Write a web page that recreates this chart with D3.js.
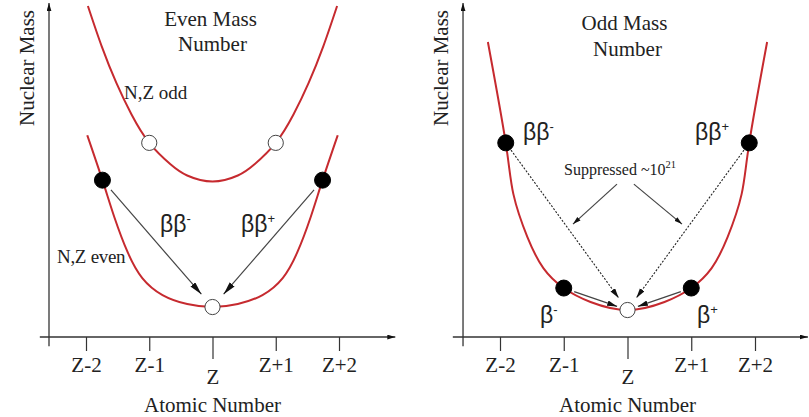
<!DOCTYPE html>
<html>
<head>
<meta charset="utf-8">
<script src="https://d3js.org/d3.v7.min.js"></script>
<style>
  body { margin: 0; background: #fff; }
  .serif { font-family: "Liberation Serif", "Times New Roman", serif; fill: #222; }
  .sans { font-family: "Liberation Sans", Arial, sans-serif; fill: #222; }
</style>
</head>
<body>
<div id="chart"></div>
<script>
// tick positions (atomic number relative to Z) and labels
const tickZ = [-2, -1, 0, 1, 2];
const tickLabels = ["Z-2", "Z-1", "Z", "Z+1", "Z+2"];

// even mass number, N,Z odd parabola (mass in arbitrary units)
const oddOddZ    = [-1.97, -1.75, -1.52, -1.28, -1, -0.66, -0.4, 0, 0.4, 0.66, 1, 1.28, 1.52, 1.75, 1.97];
const oddOddMass = [99.4, 87.2, 76.3, 66.8, 58.3, 51.8, 48.5, 46.7, 48.5, 51.8, 58.3, 66.8, 76.3, 87.2, 99.4];
// even mass number, N,Z even parabola
const evenEvenZ    = [-1.98, -1.74, -1.55, -1.34, -1.11, -0.79, -0.4, 0, 0.4, 0.79, 1.11, 1.34, 1.55, 1.74, 1.98];
const evenEvenMass = [60.6, 47.1, 35.9, 25.4, 17.7, 12.6, 9.9, 9.0, 9.9, 12.6, 17.7, 25.4, 35.9, 47.1, 60.6];
// odd mass number parabola
const oddAZ    = [-2.19, -1.91, -1.79, -1.57, -1.32, -1, -0.58, 0, 0.58, 1, 1.32, 1.57, 1.79, 1.91, 2.19];
const oddAMass = [88.6, 58.3, 42.9, 30.0, 20.7, 14.7, 10.5, 8.1, 10.5, 14.7, 20.7, 30.0, 42.9, 58.3, 88.6];

// nuclei drawn as circles
const evenOpenZ = [-1, 1, 0],      evenOpenMass = [58.3, 58.3, 9.0];
const evenFilledZ = [-1.74, 1.74], evenFilledMass = [47.1, 47.1];
const oddFilledZ = [-1.91, -1, 1, 1.91], oddFilledMass = [58.3, 14.7, 14.7, 58.3];
const oddOpenZ = [0],              oddOpenMass = [8.1];

// decay arrows: [fromZ, fromMass, toZ, toMass]
const evenArrows      = [[-1.74, 47.1, 0, 9.0], [1.74, 47.1, 0, 9.0]];
const oddDoubleArrows = [[-1.91, 58.3, 0, 8.1], [1.91, 58.3, 0, 8.1]];
const oddSingleArrows = [[-1, 14.7, 0, 8.1], [1, 14.7, 0, 8.1]];
const suppressArrows  = [[-0.165, 45.9, -0.855, 33.9], [0.1, 45.9, 0.855, 33.9]];

const W = 809, H = 417;
const red = "#c62a2f";

const svg = d3.select("#chart").append("svg")
    .attr("width", W).attr("height", H);

const defs = svg.append("defs");
function marker(id, len, half) {
  defs.append("marker")
      .attr("id", id)
      .attr("markerUnits", "userSpaceOnUse")
      .attr("markerWidth", len + 1).attr("markerHeight", half * 2 + 1)
      .attr("refX", len).attr("refY", half)
      .attr("orient", "auto")
    .append("path")
      .attr("d", `M0,0L${len},${half}L0,${half * 2}Z`)
      .attr("fill", "#111");
}
marker("head", 13, 3.2);
marker("headMid", 10, 2.8);
marker("headSmall", 8, 2.4);

const y = d3.scaleLinear().domain([0, 100]).range([337, 4]);

const line = (x) => d3.line()
    .x(d => x(d[0])).y(d => y(d[1]))
    .curve(d3.curveNatural);

function arrow(g, x, a, gap0, gap1, head, dashed) {
  const p0 = [x(a[0]), y(a[1])], p1 = [x(a[2]), y(a[3])];
  const dx = p1[0] - p0[0], dy = p1[1] - p0[1], L = Math.hypot(dx, dy);
  g.append("line")
      .attr("x1", p0[0] + dx * gap0 / L).attr("y1", p0[1] + dy * gap0 / L)
      .attr("x2", p1[0] - dx * gap1 / L).attr("y2", p1[1] - dy * gap1 / L)
      .attr("stroke", dashed ? "#222" : "#444")
      .attr("stroke-width", dashed ? 1.1 : 1.2)
      .attr("stroke-dasharray", dashed ? "2,1.6" : null)
      .attr("marker-end", `url(#${head})`);
}

function circles(g, x, zs, ms, filled) {
  g.selectAll(null).data(zs).join("circle")
      .attr("cx", d => x(d)).attr("cy", (d, i) => y(ms[i]))
      .attr("r", filled ? 8 : 7.6)
      .attr("fill", filled ? "#000" : "#fff")
      .attr("stroke", filled ? "#000" : "#444")
      .attr("stroke-width", 1);
}

function frame(g, x, axisFrom, axisTo, yAxisAt) {
  // x axis with custom ticks
  const ax = g.append("g")
      .attr("transform", `translate(0,${y(0)})`)
      .call(d3.axisBottom(x).tickValues(tickZ)
        .tickFormat((d, i) => tickLabels[i]).tickSize(14).tickSizeOuter(0))
      .attr("font-family", "Liberation Serif, Times New Roman, serif")
      .attr("font-size", 21);
  ax.select(".domain").remove();
  ax.selectAll(".tick line").attr("stroke", "#333").attr("stroke-width", 1.2)
      .filter(d => d === 0).attr("y2", 22);
  ax.selectAll(".tick text")
      .attr("fill", "#222")
      .attr("dy", 0).attr("y", d => d === 0 ? 47 : 35);

  g.append("line")
      .attr("x1", x(axisFrom)).attr("x2", x(axisTo))
      .attr("y1", y(0)).attr("y2", y(0))
      .attr("stroke", "#333").attr("stroke-width", 1.3)
      .attr("marker-end", "url(#headSmall)");
  g.append("line")
      .attr("x1", x(yAxisAt)).attr("x2", x(yAxisAt))
      .attr("y1", y(-2.8)).attr("y2", y(100.3))
      .attr("stroke", "#333").attr("stroke-width", 1.3)
      .attr("marker-end", "url(#headSmall)");

  g.append("text").attr("class", "serif").attr("font-size", 21)
      .attr("text-anchor", "middle")
      .attr("x", x(0)).attr("y", 412)
      .text("Atomic Number");
  g.append("text").attr("class", "serif").attr("font-size", 21)
      .attr("text-anchor", "middle")
      .attr("transform", `translate(${x(yAxisAt) - 15},68) rotate(-90)`)
      .text("Nuclear Mass");
}

function superLabel(g, px, py, base, sup, size, supSize, lift, cls) {
  const t = g.append("text").attr("class", cls).attr("font-size", size)
      .attr("x", px).attr("y", py).text(base);
  t.append("tspan").attr("font-size", supSize).attr("dy", -lift).text(sup);
}

// ---------- left panel: even mass number ----------
const xL = d3.scaleLinear().domain([-2, 2]).range([86, 339]);
const gL = svg.append("g");
frame(gL, xL, -2.73, 2.89, -2.585);

gL.append("path").datum(d3.zip(oddOddZ, oddOddMass))
    .attr("d", line(xL)).attr("fill", "none")
    .attr("stroke", red).attr("stroke-width", 2);
gL.append("path").datum(d3.zip(evenEvenZ, evenEvenMass))
    .attr("d", line(xL)).attr("fill", "none")
    .attr("stroke", red).attr("stroke-width", 2);

evenArrows.forEach(a => arrow(gL, xL, a, 13, 17, "head", false));
circles(gL, xL, evenOpenZ, evenOpenMass, false);
circles(gL, xL, evenFilledZ, evenFilledMass, true);

gL.append("text").attr("class", "serif").attr("font-size", 21)
    .attr("text-anchor", "middle").attr("x", xL(0) - 2).attr("y", 26).text("Even Mass");
gL.append("text").attr("class", "serif").attr("font-size", 21)
    .attr("text-anchor", "middle").attr("x", xL(0)).attr("y", 51).text("Number");
gL.append("text").attr("class", "serif").attr("font-size", 19)
    .attr("x", 124).attr("y", 99).text("N,Z odd");
gL.append("text").attr("class", "serif").attr("font-size", 19)
    .attr("x", 57).attr("y", 263).attr("letter-spacing", -0.3).text("N,Z even");
superLabel(gL, 160, 232, "ββ", "-", 23, 13, 9, "sans");
superLabel(gL, 241, 232, "ββ", "+", 23, 13, 9, "sans");

// ---------- right panel: odd mass number ----------
const xR = d3.scaleLinear().domain([-2, 2]).range([500, 755]);
const gR = svg.append("g");
frame(gR, xR, -2.74, 2.83, -2.58);

gR.append("path").datum(d3.zip(oddAZ, oddAMass))
    .attr("d", line(xR)).attr("fill", "none")
    .attr("stroke", red).attr("stroke-width", 2);

oddDoubleArrows.forEach(a => arrow(gR, xR, a, 9, 15, "headMid", true));
oddSingleArrows.forEach(a => arrow(gR, xR, a, 11, 11, "headMid", false));
suppressArrows.forEach(a => arrow(gR, xR, a, 0, 0, "headSmall", false));
circles(gR, xR, oddOpenZ, oddOpenMass, false);
circles(gR, xR, oddFilledZ, oddFilledMass, true);

gR.append("text").attr("class", "serif").attr("font-size", 21)
    .attr("text-anchor", "middle").attr("x", xR(0) - 3).attr("y", 30).text("Odd Mass");
gR.append("text").attr("class", "serif").attr("font-size", 21)
    .attr("text-anchor", "middle").attr("x", xR(0)).attr("y", 56).text("Number");
superLabel(gR, 523, 140, "ββ", "-", 23, 13, 9, "sans");
superLabel(gR, 695, 140, "ββ", "+", 23, 13, 9, "sans");
superLabel(gR, 540, 323, "β", "-", 23, 13, 9, "sans");
superLabel(gR, 697, 323, "β", "+", 23, 13, 9, "sans");
superLabel(gR, 564, 175, "Suppressed ~10", "21", 16, 10.5, 7, "serif");
</script>
</body>
</html>
